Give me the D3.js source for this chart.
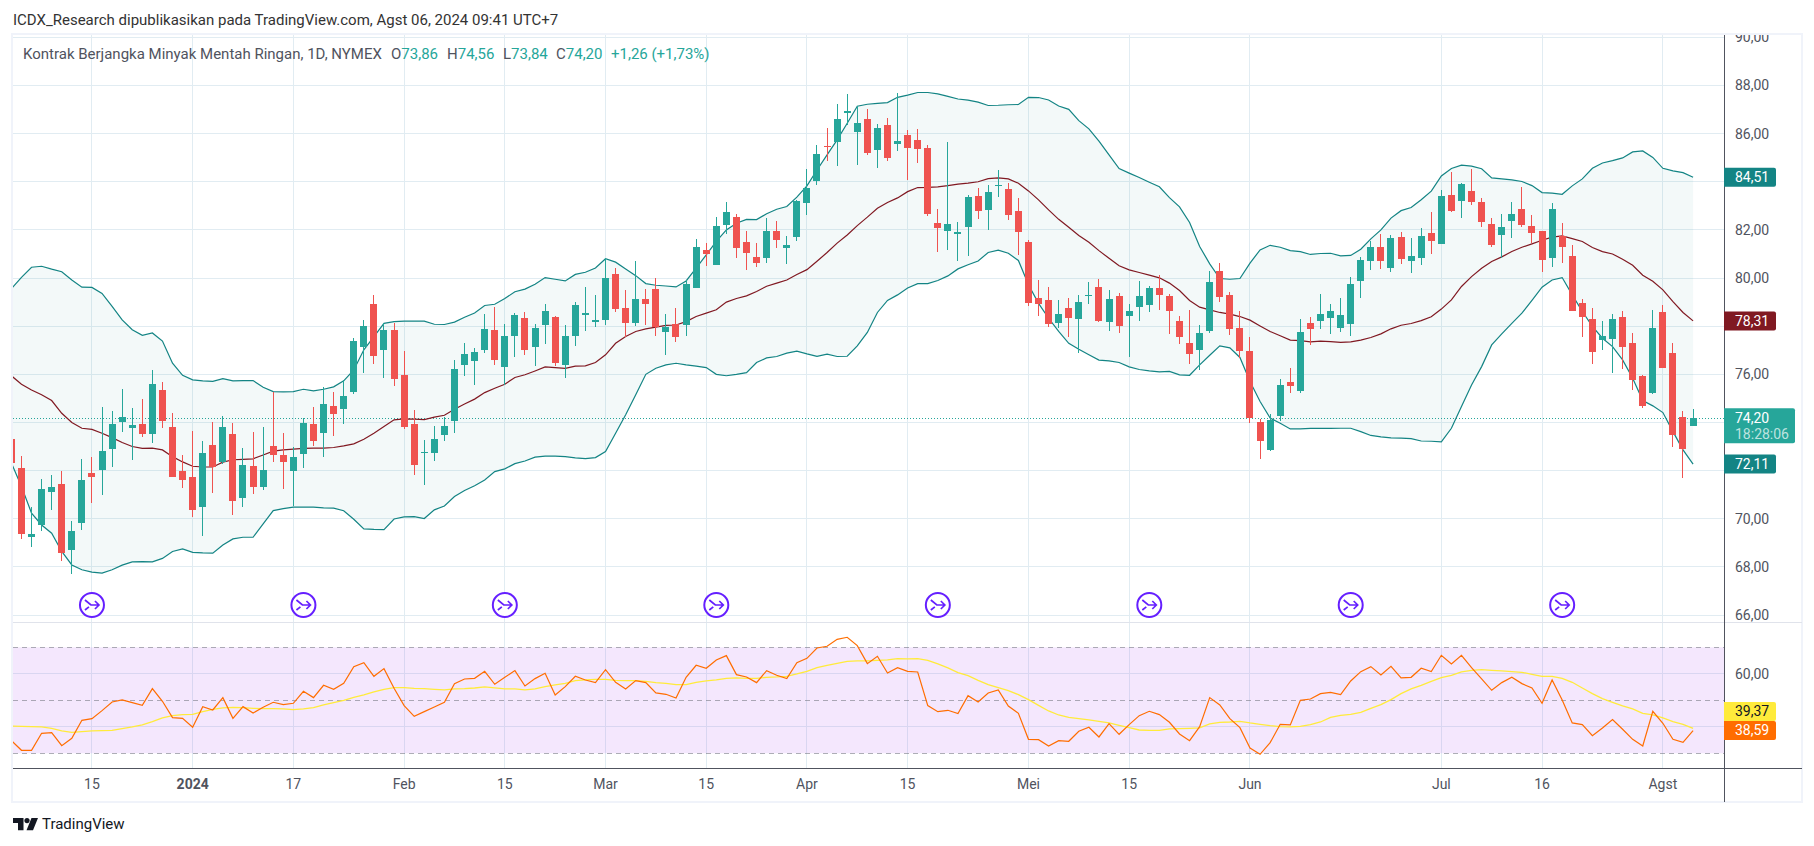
<!DOCTYPE html>
<html>
<head>
<meta charset="utf-8">
<title>Kontrak Berjangka Minyak Mentah Ringan</title>
<script src="https://cdn.jsdelivr.net/npm/d3@7"></script>
<style>
  html, body { margin: 0; padding: 0; background: #fff; }
  svg { display: block; }
  text { font-family: Roboto, "Liberation Sans", sans-serif; font-size: 14px; }
  .axis path, .axis line { display: none; }
  .axis text { fill: #50535e; font-size: 14px; }
  .legend { font-size: 15px; }
</style>
</head>
<body>
<svg id="chart" width="1814" height="846"></svg>
<script>
// daily candles, oldest first
const opens = [73.30,72.11,69.25,69.74,71.12,71.45,68.71,69.83,71.91,72.03,72.90,74.02,73.78,73.94,73.53,75.35,73.82,71.99,71.74,70.49,73.07,72.36,73.53,70.87,72.20,71.32,73.03,72.65,71.99,72.69,
  73.94,73.58,74.69,74.56,75.27,77.14,78.93,77.02,77.85,75.98,73.94,72.74,72.74,73.48,74.07,76.39,76.56,77.02,77.85,76.31,77.60,78.35,77.14,78.05,78.39,76.39,77.60,78.47,78.18,78.26,
  80.17,78.76,78.14,79.13,79.55,77.76,78.10,78.05,79.59,81.17,80.55,82.21,82.54,81.50,80.88,80.84,81.96,81.25,81.71,83.12,84.04,85.49,85.66,86.86,86.07,86.61,85.32,86.36,85.57,85.95,
  85.74,85.41,82.29,81.96,81.84,82.13,83.41,82.83,83.84,83.70,82.79,81.50,79.18,79.09,78.14,78.76,78.30,79.26,79.63,78.18,79.26,78.43,78.80,78.89,79.59,79.26,78.22,77.31,77.02,77.80,
  80.30,79.30,77.93,76.97,74.02,72.86,74.27,75.69,75.31,78.14,78.22,78.35,77.93,78.10,79.88,80.71,81.29,80.42,81.71,80.71,80.84,81.88,81.42,83.46,83.21,83.62,83.16,82.25,81.79,82.38,
  82.87,82.17,81.96,80.84,81.75,80.92,78.97,78.30,77.43,77.47,78.39,77.31,75.94,75.23,78.59,76.89,74.23,73.86];
const highs = [73.30,72.61,70.48,71.66,71.82,71.97,69.91,72.49,72.57,74.65,74.48,75.40,74.61,74.98,76.18,75.69,74.40,72.65,73.65,73.23,74.02,74.27,73.98,72.94,73.61,73.82,75.27,73.57,72.99,74.19,
  74.65,75.46,75.27,75.77,77.51,78.26,79.30,78.12,78.14,76.97,74.52,73.28,73.86,74.23,76.60,77.31,77.10,78.51,78.80,78.10,78.55,78.59,78.10,78.93,78.43,78.05,79.01,79.63,79.30,80.85,
  80.42,79.51,80.71,79.55,80.01,78.51,78.76,79.92,81.63,81.46,82.54,83.16,82.67,81.96,81.46,82.50,82.38,81.75,83.25,84.54,85.53,86.24,87.24,87.65,87.15,87.03,86.41,86.65,87.69,86.16,
  86.20,85.53,82.87,85.66,82.33,83.46,83.75,83.87,84.49,83.95,83.33,81.59,79.92,79.63,79.09,79.18,79.30,79.84,79.97,79.51,79.38,78.93,79.88,79.67,80.13,79.34,78.43,78.68,78.05,80.30,
  80.63,79.43,78.64,77.56,74.15,74.36,75.81,76.27,78.30,78.39,79.34,78.93,79.18,80.05,80.88,81.54,81.84,81.79,81.92,81.67,82.08,82.75,83.66,84.41,83.95,84.54,83.33,82.50,82.67,83.16,
  83.79,82.62,81.96,83.12,82.29,81.38,79.13,78.76,78.22,78.51,78.64,77.72,75.98,78.68,78.89,77.31,74.48,74.56];
const lows = [72.28,69.14,68.84,69.50,70.37,68.26,67.72,69.54,70.66,70.99,72.15,73.61,72.45,73.40,73.15,73.78,71.74,71.28,70.08,69.29,71.07,72.28,70.16,70.49,71.03,71.20,72.36,71.24,70.53,72.11,
  73.03,72.58,73.44,73.94,75.19,76.06,76.43,75.85,75.52,73.73,71.82,71.41,72.40,73.23,73.57,75.94,75.56,76.89,76.39,75.56,76.72,76.81,76.35,77.26,76.35,75.85,77.18,77.80,77.97,78.05,
  78.59,77.56,78.01,78.05,77.60,76.81,77.35,77.60,79.59,80.51,80.55,81.84,80.84,80.34,80.46,80.63,81.25,80.59,81.54,82.62,83.87,84.87,84.66,86.36,84.70,85.12,84.58,84.87,85.28,84.08,
  84.78,82.58,81.09,81.17,80.71,80.92,82.46,82.00,83.37,82.42,80.96,78.84,78.43,77.97,77.93,77.56,76.89,78.93,78.18,77.80,77.72,76.72,78.22,78.59,78.68,77.68,77.26,76.43,76.18,77.72,
  79.01,77.64,76.68,73.98,72.49,72.82,74.07,75.23,75.23,77.22,77.89,77.68,77.76,77.60,79.18,80.34,80.38,80.26,80.59,80.21,80.55,81.00,81.42,82.75,82.50,83.04,82.13,81.29,80.84,81.67,
  82.13,81.46,80.26,80.46,80.63,78.62,77.56,76.43,77.02,76.06,76.23,75.35,74.61,75.19,76.27,72.99,71.70,73.84];
const closes = [72.31,69.38,69.37,71.24,71.32,68.58,69.50,71.61,71.74,72.82,73.94,74.23,73.90,73.53,75.60,74.07,71.74,71.61,70.37,72.74,72.15,73.82,70.74,72.24,71.32,72.03,72.65,72.36,72.57,73.98,
  73.23,74.77,74.36,75.10,77.39,78.01,76.77,77.85,75.81,73.82,72.24,72.78,73.32,73.86,76.23,76.85,76.93,77.89,76.60,77.60,78.47,77.02,77.93,78.64,76.48,77.60,78.89,78.55,78.26,80.01,
  78.72,78.14,79.13,78.93,77.97,77.97,77.56,79.76,81.29,81.00,82.17,82.75,81.25,81.05,80.63,81.96,81.59,81.38,83.21,83.75,85.16,85.45,86.61,86.95,86.45,85.20,86.24,84.99,85.70,85.41,
  85.37,82.67,82.08,82.25,81.92,83.37,82.79,83.58,83.88,82.62,81.92,78.97,78.93,78.10,78.51,78.35,79.01,79.30,78.22,79.13,78.01,78.64,79.26,79.59,79.30,78.64,77.56,76.85,77.72,79.84,
  79.22,77.89,76.97,74.19,73.23,74.11,75.56,75.52,77.76,77.89,78.51,78.64,78.47,79.76,80.76,81.29,80.71,81.67,80.80,80.92,81.75,81.54,83.41,82.79,83.91,83.16,82.33,81.38,82.13,82.67,
  82.21,81.88,80.76,82.87,81.29,78.62,78.39,76.93,77.60,78.30,77.14,75.77,74.69,77.93,76.27,73.48,72.90,74.20];

// bollinger bands
const bbUpper = [79.56,80.03,80.45,80.49,80.37,80.26,79.92,79.62,79.61,79.36,78.82,78.26,77.85,77.62,77.72,77.38,76.46,75.96,75.77,75.73,75.71,75.82,75.73,75.74,75.74,75.46,75.28,75.27,75.28,75.38,
  75.31,75.38,75.48,75.73,76.18,77.02,77.57,78.12,78.19,78.21,78.21,78.21,78.08,78.07,78.17,78.37,78.55,78.86,78.91,79.15,79.43,79.54,79.74,80.02,79.95,79.88,80.15,80.24,80.42,80.80,
  80.66,80.38,80.10,79.77,79.70,79.67,79.63,79.88,80.41,80.96,81.52,82.00,82.28,82.44,82.43,82.67,82.86,82.97,83.36,83.83,84.49,85.12,85.74,86.43,87.14,87.22,87.26,87.29,87.51,87.60,
  87.71,87.71,87.65,87.55,87.44,87.39,87.31,87.17,87.18,87.20,87.21,87.51,87.50,87.40,87.15,87.01,86.54,86.20,85.69,85.12,84.55,84.36,84.18,83.98,83.79,83.34,82.96,82.31,81.31,80.59,
  79.98,79.95,79.98,80.62,81.17,81.36,81.28,81.14,81.10,80.98,81.02,81.03,80.92,80.94,81.20,81.63,82.00,82.49,82.80,82.93,83.25,83.61,84.24,84.55,84.69,84.65,84.54,84.16,84.12,84.08,
  84.01,83.84,83.55,83.53,83.48,83.83,84.12,84.56,84.78,84.88,84.99,85.24,85.28,85.01,84.56,84.45,84.38,84.19];
const bbBasis = [75.94,75.59,75.35,75.15,74.91,74.38,74.00,73.76,73.71,73.55,73.37,73.17,73.00,72.92,72.93,72.86,72.58,72.36,72.18,72.15,72.15,72.35,72.45,72.47,72.49,72.65,72.81,72.86,72.89,72.92,
  72.93,72.93,72.96,73.03,73.11,73.30,73.55,73.83,74.11,74.15,74.14,74.12,74.22,74.30,74.55,74.77,74.97,75.24,75.42,75.59,75.87,75.98,76.14,76.31,76.28,76.25,76.34,76.35,76.49,76.81,
  77.29,77.57,77.78,77.89,77.96,78.03,78.05,78.19,78.40,78.54,78.68,79.00,79.15,79.26,79.44,79.66,79.79,79.92,80.15,80.35,80.70,81.06,81.45,81.79,82.18,82.53,82.90,83.14,83.33,83.59,
  83.76,83.77,83.79,83.84,83.90,83.94,84.00,84.13,84.16,84.12,83.94,83.62,83.25,82.83,82.44,82.11,81.77,81.49,81.14,80.82,80.51,80.34,80.23,80.12,80.01,79.79,79.48,79.07,78.79,78.68,
  78.57,78.50,78.40,78.25,78.01,77.78,77.60,77.42,77.40,77.35,77.38,77.36,77.33,77.35,77.42,77.53,77.68,77.89,78.04,78.11,78.23,78.39,78.71,79.09,79.65,80.06,80.41,80.69,80.88,81.10,
  81.28,81.42,81.57,81.70,81.75,81.64,81.52,81.27,81.10,81.00,80.78,80.53,80.12,79.87,79.51,79.02,78.57,78.22];
const bbLower = [72.31,71.34,70.23,69.74,69.40,68.64,68.08,67.88,67.78,67.74,67.88,68.07,68.21,68.22,68.21,68.35,68.64,68.75,68.60,68.58,68.57,68.91,69.16,69.23,69.23,69.79,70.34,70.42,70.48,70.48,
  70.48,70.45,70.44,70.33,69.98,69.58,69.56,69.55,69.99,70.08,70.09,70.01,70.37,70.53,70.92,71.17,71.37,71.61,71.96,72.07,72.29,72.40,72.56,72.60,72.60,72.58,72.53,72.50,72.54,72.79,
  73.55,74.32,75.15,76.00,76.25,76.39,76.46,76.39,76.34,76.28,76.00,75.94,76.00,76.07,76.49,76.68,76.74,76.88,76.96,76.85,76.75,76.84,76.74,76.75,77.18,77.74,78.57,79.07,79.30,79.59,
  79.77,79.77,79.90,80.09,80.38,80.55,80.71,81.06,81.16,81.03,80.73,79.72,78.95,78.33,77.78,77.29,77.04,76.81,76.59,76.56,76.49,76.31,76.20,76.14,76.10,76.12,75.98,75.96,76.39,76.79,
  77.18,77.10,76.70,75.70,74.87,74.18,73.97,73.73,73.73,73.75,73.75,73.75,73.76,73.76,73.62,73.46,73.40,73.36,73.35,73.33,73.23,73.22,73.19,73.76,74.66,75.56,76.32,77.22,77.68,78.12,
  78.54,79.07,79.62,79.92,80.02,79.30,78.61,77.99,77.50,77.15,76.60,75.84,74.91,74.69,74.41,73.62,72.86,72.27];

// rsi pane
const rsiValues = [34.78,31.13,31.13,37.55,37.80,32.89,35.66,42.45,43.08,46.10,49.37,50.13,49.12,48.11,54.40,49.62,43.46,43.21,39.81,47.61,46.35,51.01,43.21,47.61,45.22,47.36,49.25,48.36,48.87,53.40,
  51.01,55.66,54.15,56.42,62.71,64.22,59.06,61.95,54.53,47.99,43.96,45.72,47.48,49.25,56.29,58.05,58.30,60.94,56.04,58.68,61.20,55.41,58.18,60.19,52.01,55.16,59.06,57.67,56.67,61.57,
  56.79,54.28,57.42,56.67,52.77,52.26,50.88,58.68,63.21,62.08,65.22,66.86,59.69,58.81,56.67,61.20,59.44,58.18,64.22,65.85,69.75,70.38,73.02,73.78,70.63,63.84,66.61,60.32,62.33,60.94,
  60.69,47.99,45.72,46.23,44.97,51.76,49.37,52.77,53.90,47.86,45.09,35.28,35.16,32.77,34.78,34.53,38.30,39.81,36.16,41.19,37.17,40.82,44.21,45.85,44.59,41.70,37.29,34.78,40.06,51.01,
  48.24,43.08,39.68,32.01,29.62,34.02,40.94,40.69,50.00,50.50,52.52,53.02,52.14,57.30,60.82,62.71,59.56,62.83,58.43,58.68,62.08,60.82,66.98,63.71,66.98,62.33,58.05,53.77,56.67,58.68,
  56.29,54.65,48.87,57.67,50.13,41.45,40.82,36.67,39.56,42.70,39.06,35.28,32.77,45.85,41.32,35.28,34.15,38.59];
const rsiMa = [40.31,40.19,40.06,39.94,39.43,38.43,37.92,38.17,38.43,38.55,38.68,39.31,39.94,40.69,41.95,43.33,44.21,44.59,44.72,45.72,46.60,47.11,47.36,47.23,46.98,46.85,46.85,46.73,46.48,46.73,
  47.23,48.24,49.12,50.00,51.13,52.01,53.15,54.15,54.78,54.78,54.53,54.40,54.15,53.90,54.28,54.40,54.65,55.03,54.65,54.28,54.28,53.90,54.28,55.16,55.79,56.42,57.42,57.67,57.93,57.93,
  57.55,57.42,57.42,57.17,56.67,56.42,55.91,55.91,56.79,57.30,57.67,58.30,58.43,58.30,58.30,58.68,58.81,59.06,59.94,60.94,62.33,63.21,63.96,64.72,64.84,64.84,65.10,65.22,65.73,65.60,
  65.73,65.10,63.71,62.20,60.44,59.31,57.55,55.91,54.78,53.65,52.14,50.25,48.11,45.97,44.46,43.58,43.08,42.58,42.07,41.45,40.57,39.68,38.80,38.68,38.68,39.18,39.31,39.43,39.56,41.07,
  41.70,41.82,42.07,41.45,40.94,40.44,40.06,39.94,40.19,40.82,41.82,43.58,44.34,44.72,45.47,46.98,48.36,50.25,52.52,54.28,55.66,57.17,58.55,59.44,60.69,61.32,61.57,61.32,61.07,60.82,
  60.57,59.81,59.06,59.06,58.30,56.79,54.65,52.52,50.63,49.25,47.86,46.73,45.09,44.46,43.33,41.95,40.94,39.37];

const rsiLevels = [70, 50, 30];
const rsiGrid = [60, 40];
const priceTicks = [66, 68, 70, 72, 74, 76, 78, 80, 82, 84, 86, 88, 90];
const priceLabels = [66, 68, 70, 76, 80, 82, 86, 88, 90]; // the rest sit behind the value badges
const rsiTicks = [60];
const timeTickIdx = [8, 18, 28, 39, 49, 59, 69, 79, 89, 101, 111, 123, 142, 152, 164];
const timeTickLabels = ["15", "2024", "17", "Feb", "15", "Mar", "15", "Apr", "15", "Mei", "15", "Jun", "Jul", "16", "Agst"];
const rollIdx = [8, 29, 49, 70, 92, 113, 133, 154];

const lastPrice = 74.20;
const legendParts = [["O", "73,86"], ["H", "74,56"], ["L", "73,84"], ["C", "74,20"]];

const upColor = "#26a69a", downColor = "#ef5350", bandColor = "#138484", basisColor = "#801922";
const rsiColor = "#ff6d00", rsiMaColor = "#ffeb3b", textColor = "#50535e";
const comma = d => d3.format(".2f")(d).replace(".", ",");

const left = 13, axisX = 1724, frameRight = 1802, frameTop = 35, frameBottom = 802;
const priceBottom = 622, timeY = 768;

const svg = d3.select("#chart");

const x = d3.scaleBand()
  .domain(d3.range(opens.length))
  .range([6.365, 6.365 + 10.07 * opens.length])
  .paddingInner(0.3)
  .paddingOuter(0.15);
const cx = i => x(i) + x.bandwidth() / 2;
const snap = i => Math.round(x(i));

const y = d3.scaleLinear().domain([66, 88]).range([615, 85.5]);
const yRsi = d3.scaleLinear().domain([30, 70]).range([753.3, 647.3]);

const defs = svg.append("defs");
defs.append("clipPath").attr("id", "price-clip")
  .append("rect").attr("x", left).attr("y", frameTop).attr("width", axisX - left).attr("height", priceBottom - frameTop);
defs.append("clipPath").attr("id", "rsi-clip")
  .append("rect").attr("x", left).attr("y", priceBottom).attr("width", axisX - left).attr("height", timeY - priceBottom);
defs.append("clipPath").attr("id", "scale-clip")
  .append("rect").attr("x", axisX).attr("y", frameTop).attr("width", frameRight - axisX).attr("height", timeY - frameTop);

// grid
const grid = svg.append("g").attr("fill", "none").attr("stroke", "#e1ecf2").attr("stroke-width", 1)
  .attr("shape-rendering", "crispEdges");
grid.selectAll(".gx").data(timeTickIdx).enter().append("line")
  .attr("x1", d => snap(d) + 3.5).attr("x2", d => snap(d) + 3.5)
  .attr("y1", frameTop).attr("y2", timeY);
grid.selectAll(".gy").data(priceTicks).enter().append("line")
  .attr("x1", left).attr("x2", axisX)
  .attr("y1", d => y(d)).attr("y2", d => y(d));
grid.selectAll(".gr").data(rsiGrid).enter().append("line")
  .attr("x1", left).attr("x2", axisX)
  .attr("y1", d => yRsi(d)).attr("y2", d => yRsi(d));

// last price line
svg.append("line")
  .attr("x1", left).attr("x2", axisX)
  .attr("y1", Math.round(y(lastPrice)) + 0.5).attr("y2", Math.round(y(lastPrice)) + 0.5)
  .attr("stroke", upColor).attr("stroke-dasharray", "1 2");

// bollinger bands
const price = svg.append("g").attr("clip-path", "url(#price-clip)");
price.append("path").datum(d3.range(opens.length))
  .attr("fill", bandColor).attr("fill-opacity", 0.05)
  .attr("d", d3.area().x(cx).y0(i => y(bbLower[i])).y1(i => y(bbUpper[i])));
const bandLine = series => d3.line().x((d, i) => cx(i)).y(d => y(d))(series);
[[bbUpper, bandColor], [bbLower, bandColor], [bbBasis, basisColor]].forEach(function (s) {
  price.append("path").attr("d", bandLine(s[0]))
    .attr("fill", "none").attr("stroke", s[1]).attr("stroke-width", 1.2);
});

// candles
const candle = price.selectAll(".candle").data(d3.range(opens.length)).enter().append("g")
  .attr("class", "candle")
  .attr("fill", i => closes[i] >= opens[i] ? upColor : downColor)
  .attr("shape-rendering", "crispEdges");
candle.append("rect")
  .attr("x", i => snap(i) + 3).attr("width", 1)
  .attr("y", i => y(highs[i])).attr("height", i => y(lows[i]) - y(highs[i]));
candle.append("rect")
  .attr("x", snap).attr("width", x.bandwidth())
  .attr("y", i => y(Math.max(opens[i], closes[i])))
  .attr("height", i => Math.max(1, Math.abs(y(opens[i]) - y(closes[i]))));

// contract rollover marks
const roll = svg.selectAll(".roll").data(rollIdx).enter().append("g")
  .attr("class", "roll")
  .attr("transform", d => "translate(" + cx(d) + ",605)")
  .attr("fill", "none").attr("stroke", "#651fff").attr("stroke-width", 1.7);
roll.append("circle").attr("r", 12).attr("fill", "#fff").attr("stroke-width", 2);
roll.append("path").attr("d", "M-7,-5L-1,0H7M3,-4L7,0L3,4M-7,5L-3,1.8");

// rsi pane
const pane = svg.append("g").attr("clip-path", "url(#rsi-clip)");
pane.append("rect")
  .attr("x", left).attr("width", axisX - left)
  .attr("y", yRsi(70)).attr("height", yRsi(30) - yRsi(70))
  .attr("fill", "#9110eb").attr("fill-opacity", 0.1);
pane.selectAll(".level").data(rsiLevels).enter().append("line")
  .attr("x1", left).attr("x2", axisX)
  .attr("y1", d => yRsi(d)).attr("y2", d => yRsi(d))
  .attr("stroke", "#787b86").attr("stroke-opacity", 0.6).attr("stroke-dasharray", "5 4")
  .attr("shape-rendering", "crispEdges");
const rsiLine = d3.line().x((d, i) => cx(i)).y(d => yRsi(d));
pane.append("path").attr("d", rsiLine(rsiMa))
  .attr("fill", "none").attr("stroke", rsiMaColor).attr("stroke-width", 1.3);
pane.append("path").attr("d", rsiLine(rsiValues))
  .attr("fill", "none").attr("stroke", rsiColor).attr("stroke-width", 1.2);

// frame and separators
const frame = svg.append("g").attr("fill", "none").attr("shape-rendering", "crispEdges");
frame.append("rect")
  .attr("x", left - 1).attr("y", frameTop - 1)
  .attr("width", frameRight - left + 1).attr("height", frameBottom - frameTop + 1)
  .attr("stroke", "#f0f3fa").attr("stroke-width", 2.5);
frame.append("line").attr("x1", left).attr("x2", frameRight).attr("y1", priceBottom).attr("y2", priceBottom)
  .attr("stroke", "#e0e3eb");
frame.append("line").attr("x1", left).attr("x2", frameRight).attr("y1", timeY).attr("y2", timeY)
  .attr("stroke", textColor);
frame.append("line").attr("x1", axisX).attr("x2", axisX).attr("y1", frameTop).attr("y2", frameBottom)
  .attr("stroke", textColor);

// axes
const scaleGroup = svg.append("g").attr("clip-path", "url(#scale-clip)");
scaleGroup.append("g").attr("class", "axis")
  .attr("transform", "translate(" + (axisX + 11) + ",0)")
  .call(d3.axisRight(y).tickValues(priceLabels).tickFormat(comma).tickSize(0).tickPadding(0));
scaleGroup.append("g").attr("class", "axis")
  .attr("transform", "translate(" + (axisX + 11) + ",0)")
  .call(d3.axisRight(yRsi).tickValues(rsiTicks).tickFormat(comma).tickSize(0).tickPadding(0));
const timeAxis = svg.append("g").attr("class", "axis")
  .attr("transform", "translate(0," + (timeY + 5) + ")")
  .call(d3.axisBottom(x).tickValues(timeTickIdx).tickFormat((d, i) => timeTickLabels[i]).tickSize(0).tickPadding(6));
timeAxis.selectAll("text").style("font-weight", (d, i) => timeTickLabels[i] === "2024" ? 700 : 400);

// value badges on the price scale
const badges = [
  { value: bbUpper[bbUpper.length - 1], label: "84,51", fill: bandColor, color: "#fff", scale: y },
  { value: bbBasis[bbBasis.length - 1], label: "78,31", fill: basisColor, color: "#fff", scale: y },
  { value: bbLower[bbLower.length - 1], label: "72,11", fill: bandColor, color: "#fff", scale: y },
  { value: rsiValues[rsiValues.length - 1], label: "38,59", fill: rsiColor, color: "#fff", scale: yRsi },
  { value: rsiValues[rsiValues.length - 1], label: "39,37", fill: rsiMaColor, color: "#131722", scale: yRsi, shift: -19 }
];
const badge = svg.selectAll(".badge").data(badges).enter().append("g")
  .attr("class", "badge")
  .attr("transform", d => "translate(" + axisX + "," + (d.scale(d.value) + (d.shift || 0)) + ")");
badge.append("path").attr("d", "M0,-9.5H50a2,2 0 0 1 2,2V7.5a2,2 0 0 1 -2,2H0Z").attr("fill", d => d.fill);
badge.append("text").attr("x", 11).attr("dy", "0.35em").attr("fill", d => d.color).text(d => d.label);

// last price badge with countdown
const lastBadge = svg.append("g").attr("transform", "translate(" + axisX + "," + y(lastPrice) + ")");
lastBadge.append("path").attr("d", "M0,-9.5H69a2,2 0 0 1 2,2V23.5a2,2 0 0 1 -2,2H0Z").attr("fill", upColor);
lastBadge.append("text").attr("x", 11).attr("dy", "0.35em").attr("fill", "#fff").text(comma(lastPrice));
lastBadge.append("text").attr("x", 11).attr("y", 16).attr("dy", "0.35em").attr("fill", "#fff").attr("fill-opacity", 0.7).text("18:28:06");

// header text
svg.append("text").attr("class", "legend").attr("x", 13).attr("y", 25).attr("fill", "#333")
  .text("ICDX_Research dipublikasikan pada TradingView.com, Agst 06, 2024 09:41 UTC+7");
svg.append("text").attr("class", "legend").attr("x", 23).attr("y", 59).attr("fill", textColor)
  .text("Kontrak Berjangka Minyak Mentah Ringan, 1D, NYMEX");
const legendX = [391, 447, 503, 556];
legendParts.forEach(function (p, i) {
  const t = svg.append("text").attr("class", "legend").attr("x", legendX[i]).attr("y", 59).attr("fill", textColor).text(p[0]);
  t.append("tspan").attr("fill", upColor).text(p[1]);
});
svg.append("text").attr("class", "legend").attr("x", 611).attr("y", 59).attr("fill", upColor).text("+1,26 (+1,73%)");

// watermark
const logo = svg.append("g").attr("transform", "translate(13,818)").attr("fill", "#131722");
logo.append("path").attr("d", "M0,0H10.5V12.3H5V5H0Z");
logo.append("circle").attr("cx", 14).attr("cy", 2.6).attr("r", 2.6);
logo.append("path").attr("d", "M13.5,12.3L18.5,0H25L20,12.3Z");
svg.append("text").attr("class", "legend").attr("x", 42).attr("y", 829).attr("fill", "#131722").text("TradingView");
</script>
</body>
</html>
